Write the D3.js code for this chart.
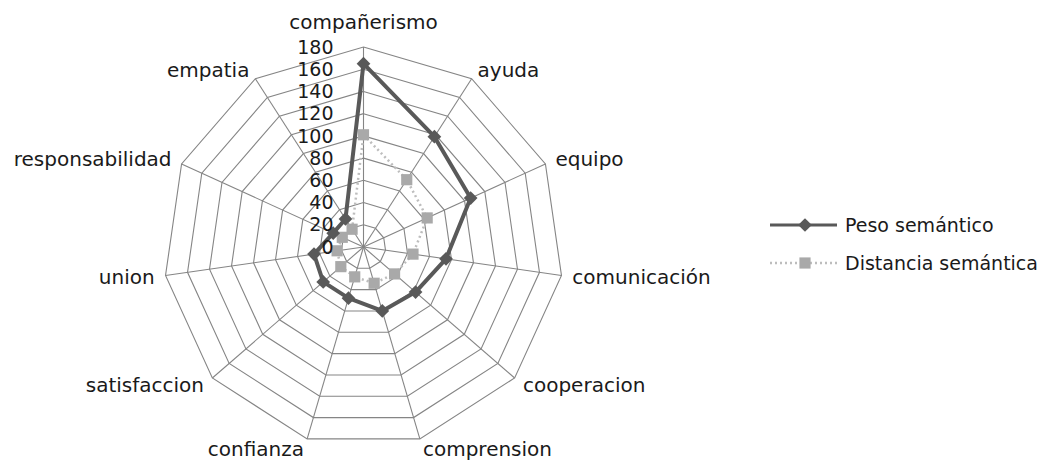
<!DOCTYPE html>
<html>
<head>
<meta charset="utf-8">
<script src="https://cdn.jsdelivr.net/npm/d3@7"></script>
<style>
  body { margin: 0; background: #fff; }
  text { font-family: "DejaVu Sans", sans-serif; fill: #1a1a1a; }
</style>
</head>
<body>
<div id="vis"></div>
<script>
// Categories, clockwise from the top
var categories = ['compañerismo', 'ayuda', 'equipo', 'comunicación', 'cooperacion',
    'comprension', 'confianza', 'satisfaccion', 'union', 'responsabilidad', 'empatia'];

// Series values
var pesoSemantico = [165, 118, 106, 75, 62, 60, 48, 48, 45, 30, 30];
var distanciaSemantica = [101, 72, 63, 45, 37, 34, 28, 27, 24, 21, 19];

var seriesNames = ['Peso semántico', 'Distancia semántica'];
var tickValues = [0, 20, 40, 60, 80, 100, 120, 140, 160, 180];

var width = 1046, height = 460;
var cx = 363.5, cy = 247, radius = 200;

var svg = d3.select('#vis').append('svg')
    .attr('width', width)
    .attr('height', height);

var g = svg.append('g').attr('transform', `translate(${cx},${cy})`);

// Scales
var rScale = d3.scaleLinear().domain([0, 180]).range([0, radius]);
var aScale = d3.scaleLinear().domain([0, categories.length]).range([0, 2 * Math.PI]);

function px(i, v) { return rScale(v) * Math.sin(aScale(i)); }
function py(i, v) { return -rScale(v) * Math.cos(aScale(i)); }

// Grid rings
var ring = d3.lineRadial()
    .angle((d, i) => aScale(i))
    .radius(d => rScale(d))
    .curve(d3.curveLinearClosed);

tickValues.filter(t => t > 0).forEach(function(t) {
    g.append('path')
        .attr('d', ring(categories.map(() => t)))
        .attr('fill', 'none')
        .attr('stroke', '#858585')
        .attr('stroke-width', 1.1);
});

// Spokes
g.selectAll('.spoke').data(categories).enter().append('line')
    .attr('class', 'spoke')
    .attr('x1', 0).attr('y1', 0)
    .attr('x2', (d, i) => px(i, 180))
    .attr('y2', (d, i) => py(i, 180))
    .attr('stroke', '#858585')
    .attr('stroke-width', 1.1);

// Category labels
g.selectAll('.cat').data(categories).enter().append('text')
    .attr('class', 'cat')
    .attr('x', function(d, i) { return (rScale(180) + 11) * Math.sin(aScale(i)); })
    .attr('y', function(d, i) {
        if (i === 0) return -(rScale(180) + 25);
        return -(rScale(180) + 11) * Math.cos(aScale(i));
    })
    .attr('dy', '0.35em')
    .attr('text-anchor', function(d, i) {
        var s = Math.sin(aScale(i));
        return s > 0.1 ? 'start' : (s < -0.1 ? 'end' : 'middle');
    })
    .style('font-size', '20px')
    .text(d => d);

// Series
var seriesLine = d3.lineRadial()
    .angle((d, i) => aScale(i))
    .radius(d => rScale(d))
    .curve(d3.curveLinearClosed);

g.append('path')
    .attr('d', seriesLine(distanciaSemantica))
    .attr('fill', 'none')
    .attr('stroke', '#bdbdbd')
    .attr('stroke-width', 2.5)
    .attr('stroke-dasharray', '2,3');

g.append('path')
    .attr('d', seriesLine(pesoSemantico))
    .attr('fill', 'none')
    .attr('stroke', '#595959')
    .attr('stroke-width', 4)
    .attr('stroke-linejoin', 'round');

var square = d3.symbol(d3.symbolSquare, 125);
var diamond = d3.symbol(d3.symbolDiamond2, 120);

g.selectAll('.sq').data(distanciaSemantica).enter().append('path')
    .attr('class', 'sq')
    .attr('d', square)
    .attr('transform', (d, i) => `translate(${px(i, d)},${py(i, d)})`)
    .attr('fill', '#a9a9a9');

g.selectAll('.dm').data(pesoSemantico).enter().append('path')
    .attr('class', 'dm')
    .attr('d', diamond)
    .attr('transform', (d, i) => `translate(${px(i, d)},${py(i, d)})`)
    .attr('fill', '#595959');

// Value axis labels (drawn on top)
g.selectAll('.tick').data(tickValues).enter().append('text')
    .attr('class', 'tick')
    .attr('x', -30)
    .attr('y', d => -rScale(d))
    .attr('dy', '0.35em')
    .attr('text-anchor', 'end')
    .style('font-size', '19px')
    .text(d => d);

// Legend
var legend = svg.append('g');

legend.append('line')
    .attr('x1', 770).attr('x2', 837).attr('y1', 225).attr('y2', 225)
    .attr('stroke', '#595959').attr('stroke-width', 3);
legend.append('path')
    .attr('d', diamond)
    .attr('transform', 'translate(805,225)')
    .attr('fill', '#595959');
legend.append('text')
    .attr('x', 845).attr('y', 225).attr('dy', '0.35em')
    .style('font-size', '19px')
    .text(seriesNames[0]);

legend.append('line')
    .attr('x1', 770).attr('x2', 837).attr('y1', 263).attr('y2', 263)
    .attr('stroke', '#bdbdbd').attr('stroke-width', 2.5)
    .attr('stroke-dasharray', '2,3');
legend.append('path')
    .attr('d', square)
    .attr('transform', 'translate(805,263)')
    .attr('fill', '#a9a9a9');
legend.append('text')
    .attr('x', 845).attr('y', 263).attr('dy', '0.35em')
    .style('font-size', '19px')
    .text(seriesNames[1]);
</script>
</body>
</html>
